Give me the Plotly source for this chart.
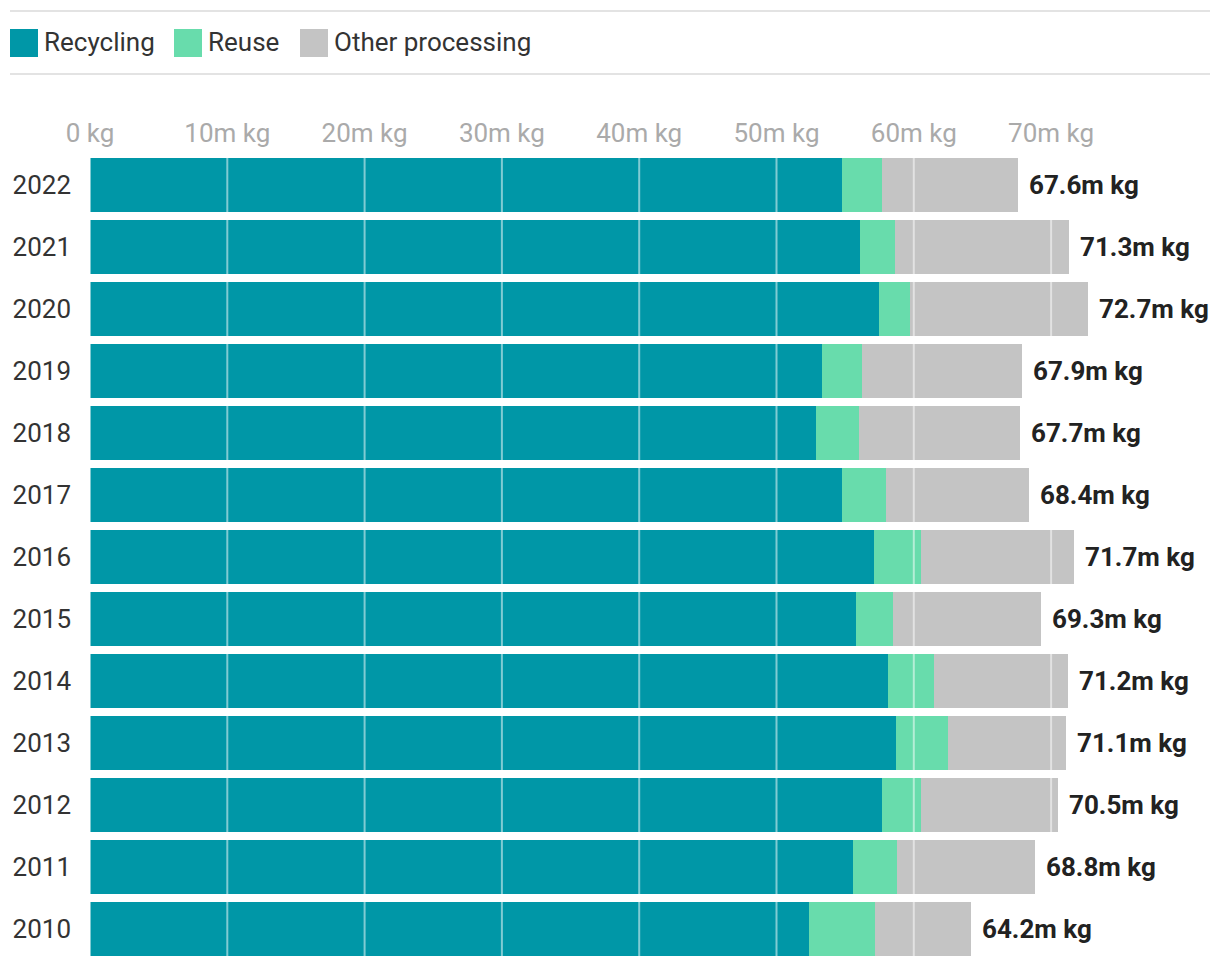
import plotly.graph_objects as go

years = ["2022", "2021", "2020", "2019", "2018", "2017", "2016",
         "2015", "2014", "2013", "2012", "2011", "2010"]
recycling = [54.8, 56.1, 57.5, 53.3, 52.9, 54.8, 57.1, 55.8, 58.1, 58.7, 57.7, 55.6, 52.4]
reuse = [2.9, 2.5, 2.2, 2.9, 3.1, 3.2, 3.4, 2.7, 3.4, 3.8, 2.8, 3.2, 4.8]
other = [9.9, 12.7, 13.0, 11.7, 11.7, 10.4, 11.2, 10.8, 9.7, 8.6, 10.0, 10.0, 7.0]
totals = [67.6, 71.3, 72.7, 67.9, 67.7, 68.4, 71.7, 69.3, 71.2, 71.1, 70.5, 68.8, 64.2]
series_names = ["Recycling", "Reuse", "Other processing"]
tick_values = [0, 10, 20, 30, 40, 50, 60, 70]
tick_labels = ["0 kg", "10m kg", "20m kg", "30m kg", "40m kg", "50m kg", "60m kg", "70m kg"]

colors = ["#0097a7", "#68dcac", "#c4c4c4"]
FONT = "Roboto"

OFF = 8  # page body margin
W, H = 1220 - OFF, 966 - OFF
L, R_PX, T, B_PX = 90 - OFF, 1130 - OFF, 154 - OFF, 960 - OFF  # plot area in pixels
PX_PER_UNIT = 13.73
x_max = (R_PX - L) / PX_PER_UNIT


def px_x(px):
    return (px - OFF - L) / (R_PX - L)


def px_y(py):
    return (B_PX - (py - OFF)) / (B_PX - T)


fig = go.Figure()
for name, vals, col in zip(series_names, [recycling, reuse, other], colors):
    fig.add_trace(go.Bar(
        y=years, x=vals, name=name, orientation="h",
        marker=dict(color=col, line=dict(width=0)),
        showlegend=False,
    ))

# gridlines drawn above the bars
for tv in tick_values:
    fig.add_shape(type="line", xref="x", yref="paper", x0=tv, x1=tv, y0=0, y1=1,
                  line=dict(color="rgba(255,255,255,0.5)", width=2), layer="above")

# total labels
for i, t in enumerate(totals):
    fig.add_annotation(x=t, y=i, xref="x", yref="y", text=f"<b>{t}m kg</b>",
                       showarrow=False, xanchor="left", yanchor="middle", xshift=9,
                       font=dict(family=FONT, size=26, color="#222222"))

# custom legend
legend_x = [10, 174, 300]
for name, col, lx in zip(series_names, colors, legend_x):
    fig.add_shape(type="rect", xref="paper", yref="paper",
                  x0=px_x(lx), x1=px_x(lx + 28), y0=px_y(57), y1=px_y(29),
                  fillcolor=col, line=dict(width=0), layer="above")
    fig.add_annotation(xref="paper", yref="paper", x=px_x(lx + 32), y=px_y(42),
                       text=name, showarrow=False, xanchor="left", yanchor="middle",
                       font=dict(family=FONT, size=26, color="#333333"))

# separator lines around legend
for ly in [11, 74]:
    fig.add_shape(type="line", xref="paper", yref="paper",
                  x0=px_x(10), x1=px_x(1210), y0=px_y(ly), y1=px_y(ly),
                  line=dict(color="#e3e3e3", width=2))

fig.update_layout(
    width=W, height=H,
    barmode="stack",
    bargap=0.129,
    plot_bgcolor="white",
    paper_bgcolor="white",
    margin=dict(l=L, r=W - R_PX, t=T, b=H - B_PX, pad=0),
    font=dict(family=FONT, size=26, color="#333333"),
    showlegend=False,
)
fig.update_xaxes(
    range=[0, x_max], side="top", tickvals=tick_values, ticktext=tick_labels,
    showgrid=False, zeroline=False, showline=False, ticks="",
    tickfont=dict(family=FONT, size=26, color="#aaaaaa"),
    ticklabelstandoff=6,
)
fig.update_yaxes(
    type="category", categoryorder="array", categoryarray=years,
    range=[len(years) - 0.5, -0.5], autorange=False,
    showgrid=False, zeroline=False, showline=False,
    ticks="", tickfont=dict(family=FONT, size=26, color="#333333"),
    ticklabelstandoff=18,
)

fig.write_html("out.html")
